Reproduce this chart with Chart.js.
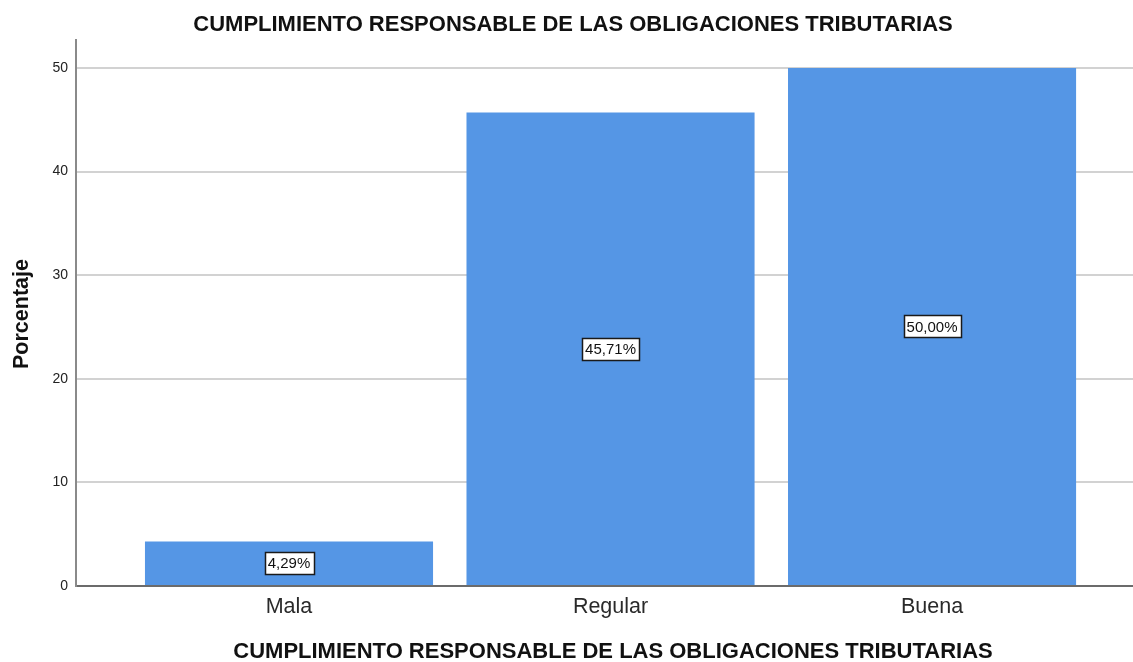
<!DOCTYPE html>
<html>
<head>
<meta charset="utf-8">
<script src="https://cdn.jsdelivr.net/npm/chart.js@4.4.1/dist/chart.umd.min.js"></script>
<style>
  html, body { margin: 0; padding: 0; background: #ffffff; }
  #wrap { width: 1133px; height: 662px; position: relative; }
</style>
</head>
<body>
<div id="wrap"><canvas id="c" width="1133" height="662"></canvas></div>
<script>
const categories = ["Mala", "Regular", "Buena"];
const percentages = [4.29, 45.71, 50.00];
const valueLabels = ["4,29%", "45,71%", "50,00%"];
const yTicks = [0, 10, 20, 30, 40, 50];
const chartTitle = "CUMPLIMIENTO RESPONSABLE DE LAS OBLIGACIONES TRIBUTARIAS";
const xTitle = "CUMPLIMIENTO RESPONSABLE DE LAS OBLIGACIONES TRIBUTARIAS";
const yTitle = "Porcentaje";

const FONT = "'Liberation Sans', Arial, Helvetica, sans-serif";

const labelBoxes = {
  id: 'labelBoxes',
  afterDatasetsDraw(chart) {
    const ctx = chart.ctx;
    const meta = chart.getDatasetMeta(0);
    ctx.save();
    ctx.font = "15px " + FONT;
    ctx.textAlign = 'center';
    ctx.textBaseline = 'middle';
    meta.data.forEach((bar, i) => {
      const cx = bar.x;
      const cy = (bar.y + bar.base) / 2;
      const txt = valueLabels[i];
      const w = Math.round(ctx.measureText(txt).width + 6);
      const h = 22;
      const x0 = Math.round(cx - w / 2) + 0.5;
      const y0 = Math.round(cy - h / 2) + 0.5;
      ctx.fillStyle = '#ffffff';
      ctx.fillRect(x0, y0, w, h);
      ctx.strokeStyle = '#1a1a1a';
      ctx.lineWidth = 1.5;
      ctx.strokeRect(x0, y0, w, h);
      ctx.fillStyle = '#111111';
      ctx.fillText(txt, cx, cy + 1);
    });
    ctx.restore();
  }
};

const titles = {
  id: 'titles',
  afterDraw(chart) {
    const ctx = chart.ctx;
    const area = chart.chartArea;
    ctx.save();
    ctx.fillStyle = '#111111';
    ctx.font = "bold 22px " + FONT;
    ctx.textAlign = 'center';
    ctx.textBaseline = 'alphabetic';
    ctx.fillText(chartTitle, 573, 31);
    ctx.fillText(xTitle, 613, 658);
    ctx.font = "bold 21.5px " + FONT;
    ctx.translate(28, (area.top + area.bottom) / 2 + 1);
    ctx.rotate(-Math.PI / 2);
    ctx.fillText(yTitle, 0, 0);
    ctx.restore();
  }
};

new Chart(document.getElementById('c'), {
  type: 'bar',
  data: {
    datasets: [{
      data: percentages.map((v, i) => ({ x: i, y: v })),
      backgroundColor: '#5596E5',
      borderWidth: 0,
      barPercentage: 0.896,
      categoryPercentage: 1.0
    }]
  },
  options: {
    responsive: false,
    animation: false,
    layout: { padding: { left: 0, right: 0, top: 40, bottom: 0 } },
    plugins: {
      legend: { display: false },
      tooltip: { enabled: false },
      title: { display: false }
    },
    scales: {
      x: {
        type: 'linear',
        offset: false,
        min: -0.6625,
        max: 2.625,
        afterBuildTicks(scale) { scale.ticks = [0, 1, 2].map(v => ({ value: v })); },
        afterFit(scale) { scale.height = 76; },
        grid: { display: false, drawTicks: false },
        border: { display: true, color: '#6b6b6b', width: 2 },
        ticks: {
          padding: 8,
          color: '#2a2a2a',
          font: { family: FONT, size: 21.5 },
          callback: (v) => categories[v] ?? ''
        }
      },
      y: {
        min: 0,
        max: 52.7,
        afterBuildTicks(scale) { scale.ticks = yTicks.map(v => ({ value: v })); },
        afterFit(scale) { scale.width = 76; },
        grid: { color: '#d2d2d2', lineWidth: 2, drawTicks: false },
        border: { display: true, color: '#8a8a8a', width: 2 },
        ticks: {
          padding: 8,
          color: '#222222',
          font: { family: FONT, size: 14 }
        }
      }
    }
  },
  plugins: [labelBoxes, titles]
});
</script>
</body>
</html>
